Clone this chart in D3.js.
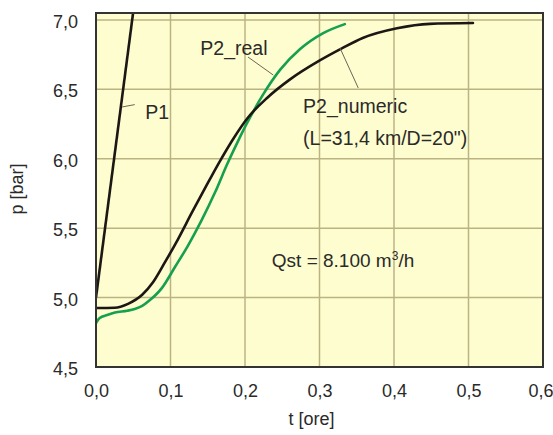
<!DOCTYPE html>
<html>
<head>
<meta charset="utf-8">
<script src="https://cdn.jsdelivr.net/npm/d3@7"></script>
<style>
  html, body { margin: 0; padding: 0; background: #ffffff; }
  svg { display: block; font-family: "Liberation Sans", Arial, sans-serif; }
</style>
</head>
<body>
<svg id="chart" width="553" height="435"></svg>
<script>
// ---- data ----
const xTicks = [0.0, 0.1, 0.2, 0.3, 0.4, 0.5, 0.6];
const yTicks = [4.5, 5.0, 5.5, 6.0, 6.5, 7.0];
const xTickLabels = ["0,0", "0,1", "0,2", "0,3", "0,4", "0,5", "0,6"];
const yTickLabels = ["4,5", "5,0", "5,5", "6,0", "6,5", "7,0"];

// P1 (black, steep)
const p1T = [0.0, 0.050];
const p1P = [5.0, 7.06];

// P2_numeric (black)
const numT = [0.0, 0.025, 0.043, 0.062, 0.0765, 0.0926, 0.110, 0.129, 0.146, 0.166, 0.185, 0.203, 0.230, 0.260, 0.301, 0.330, 0.358, 0.404, 0.448, 0.506];
const numP = [4.925, 4.927, 4.955, 5.02, 5.11, 5.255, 5.42, 5.615, 5.785, 5.98, 6.15, 6.29, 6.44, 6.57, 6.71, 6.795, 6.87, 6.94, 6.972, 6.978];

// P2_real (green)
const realT = [0.0, 0.005, 0.015, 0.0255, 0.042, 0.052, 0.062, 0.072, 0.0886, 0.106, 0.1235, 0.142, 0.160, 0.176, 0.190, 0.203, 0.224, 0.247, 0.274, 0.305, 0.334];
const realP = [4.817, 4.853, 4.874, 4.892, 4.905, 4.918, 4.94, 4.98, 5.07, 5.22, 5.375, 5.56, 5.76, 5.96, 6.12, 6.26, 6.46, 6.64, 6.79, 6.905, 6.97];

const xTitle = "t [ore]";
const yTitle = "p [bar]";

// ---- layout ----
const svg = d3.select("#chart");
const mLeft = 96, mRight = 543, mTop = 13, mBottom = 367;
const x = d3.scaleLinear().domain([0, 0.6]).range([mLeft, mRight]);
const y = d3.scaleLinear().domain([4.5, 7.05]).range([mBottom, mTop]);

const gridColor = "#bcb383";
const axisColor = "#333333";
const textColor = "#2a2a2a";
const fontFam = "'Liberation Sans', Arial, sans-serif";

// plot background
svg.append("rect")
  .attr("x", mLeft).attr("y", mTop)
  .attr("width", mRight - mLeft).attr("height", mBottom - mTop)
  .attr("fill", "#fefdcf");

// grid
svg.append("g").selectAll("line").data(xTicks.slice(1, -1)).join("line")
  .attr("x1", d => x(d)).attr("x2", d => x(d))
  .attr("y1", mTop).attr("y2", mBottom)
  .attr("stroke", gridColor).attr("stroke-width", 1.5);
svg.append("g").selectAll("line").data(yTicks.slice(1)).join("line")
  .attr("x1", mLeft).attr("x2", mRight)
  .attr("y1", d => y(d)).attr("y2", d => y(d))
  .attr("stroke", gridColor).attr("stroke-width", 1.5);

// axes (labels via d3 axes, no domain/tick lines)
const xAxis = d3.axisBottom(x).tickValues(xTicks)
  .tickFormat((d, i) => xTickLabels[i]).tickSize(0).tickPadding(0);
const gx = svg.append("g").attr("transform", `translate(0,${mBottom})`).call(xAxis);
gx.select(".domain").remove();
gx.selectAll("text").attr("dy", null).attr("y", 30)
  .attr("font-size", 18).attr("fill", textColor)
  .attr("font-family", fontFam);
gx.selectAll("text").filter((d, i) => i === xTicks.length - 1)
  .attr("text-anchor", "end").attr("x", 553 - x(0.6));

const yAxis = d3.axisLeft(y).tickValues(yTicks)
  .tickFormat((d, i) => yTickLabels[i]).tickSize(0).tickPadding(0);
const gy = svg.append("g").attr("transform", `translate(${mLeft},0)`).call(yAxis);
gy.select(".domain").remove();
gy.selectAll("text").attr("x", -18).attr("dy", "0.42em")
  .attr("font-size", 18).attr("fill", textColor)
  .attr("font-family", fontFam);

// clip
svg.append("clipPath").attr("id", "plotclip")
  .append("rect").attr("x", mLeft).attr("y", mTop)
  .attr("width", mRight - mLeft).attr("height", mBottom - mTop);

const line = d3.line().x(d => x(d[0])).y(d => y(d[1])).curve(d3.curveMonotoneX);
const straight = d3.line().x(d => x(d[0])).y(d => y(d[1]));

const plot = svg.append("g").attr("clip-path", "url(#plotclip)");

plot.append("path")
  .datum(realT.map((t, i) => [t, realP[i]]))
  .attr("d", line).attr("fill", "none")
  .attr("stroke", "#16a04e").attr("stroke-width", 2.6)
  .attr("stroke-linecap", "round");

plot.append("path")
  .datum(numT.map((t, i) => [t, numP[i]]))
  .attr("d", line).attr("fill", "none")
  .attr("stroke", "#1c1714").attr("stroke-width", 2.6)
  .attr("stroke-linecap", "round");

plot.append("path")
  .datum(p1T.map((t, i) => [t, p1P[i]]))
  .attr("d", straight).attr("fill", "none")
  .attr("stroke", "#1c1714").attr("stroke-width", 2.6);

// border
svg.append("rect")
  .attr("x", mLeft).attr("y", mTop)
  .attr("width", mRight - mLeft).attr("height", mBottom - mTop)
  .attr("fill", "none").attr("stroke", axisColor).attr("stroke-width", 2);

// annotations (leader lines + labels)
const leaders = [
  [[0.035, 6.373], [0.052, 6.39]],
  [[0.204, 6.733], [0.238, 6.603]],
  [[0.3275, 6.798], [0.352, 6.51]]
];
svg.append("g").selectAll("line").data(leaders).join("line")
  .attr("x1", d => x(d[0][0])).attr("y1", d => y(d[0][1]))
  .attr("x2", d => x(d[1][0])).attr("y2", d => y(d[1][1]))
  .attr("stroke", "#6b6656").attr("stroke-width", 1);

const labels = [
  { t: 0.066, p: 6.286, s: "P1" },
  { t: 0.140, p: 6.747, s: "P2_real" },
  { t: 0.278, p: 6.33, s: "P2_numeric" },
  { t: 0.278, p: 6.099, s: "(L=31,4 km/D=20\")" }
];
svg.append("g").selectAll("text").data(labels).join("text")
  .attr("x", d => x(d.t)).attr("y", d => y(d.p))
  .attr("font-size", 19.5).attr("fill", textColor)
  .text(d => d.s);

const q = svg.append("text")
  .attr("x", x(0.236)).attr("y", y(5.22))
  .attr("font-size", 19).attr("fill", textColor);
q.append("tspan").text("Qst = 8.100 m");
q.append("tspan").attr("font-size", 12).attr("dy", -7).text("3");
q.append("tspan").attr("dy", 7).text("/h");

// axis titles
svg.append("text")
  .attr("x", x(0.3) - 8).attr("y", 425)
  .attr("text-anchor", "middle").attr("font-size", 18).attr("fill", textColor)
  .text(xTitle);
svg.append("text")
  .attr("transform", `translate(23,189) rotate(-90)`)
  .attr("text-anchor", "middle").attr("font-size", 18).attr("fill", textColor)
  .text(yTitle);
</script>
</body>
</html>
